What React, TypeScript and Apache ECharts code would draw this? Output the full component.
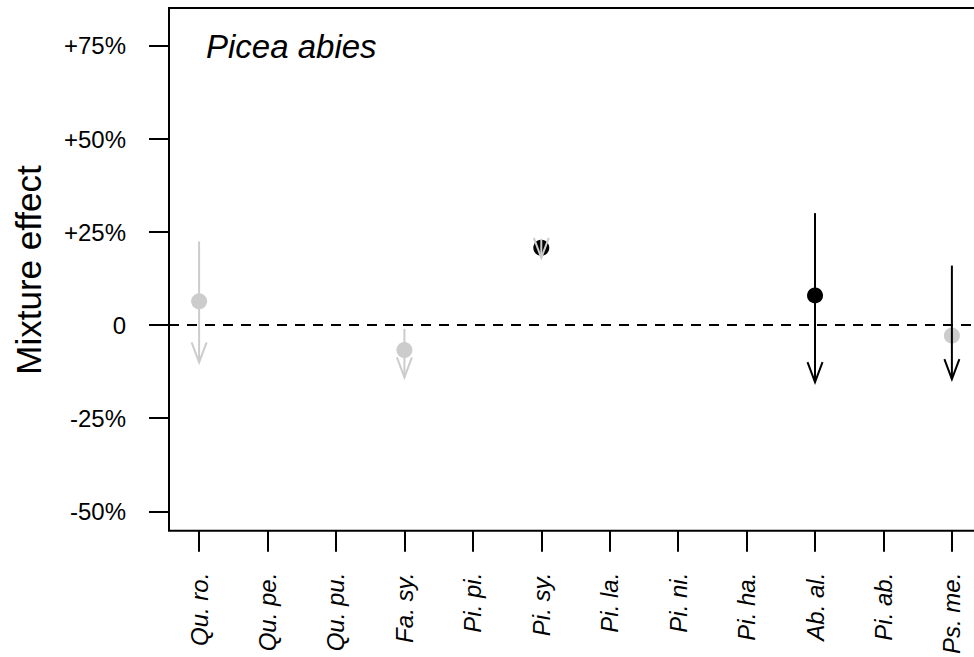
import React, { useEffect, useRef } from "react";
import * as echarts from "echarts";

const categories = ["Qu. ro.", "Qu. pe.", "Qu. pu.", "Fa. sy.", "Pi. pi.", "Pi. sy.", "Pi. la.", "Pi. ni.", "Pi. ha.", "Ab. al.", "Pi. ab.", "Ps. me."];
const yTickValues = [-50, -25, 0, 25, 50, 75];
const yTickLabels = ["-50%", "-25%", "0", "+25%", "+50%", "+75%"];

const pointCategories = ["Qu. ro.", "Fa. sy.", "Pi. sy.", "Ab. al.", "Ps. me."];
const pointValues = [6.4, -6.7, 20.8, 8.0, -2.8];
const pointSignificant = [false, false, true, true, false];

const arrowCategories = ["Qu. ro.", "Fa. sy.", "Pi. sy.", "Ab. al.", "Ps. me."];
const arrowFrom = [22.5, -1.0, 23.2, 30.1, 16.0];
const arrowTo = [-10.0, -14.0, 18.1, -15.3, -14.5];
const arrowSignificant = [false, false, false, true, true];

const GRAY = "#cccccc";
const BLACK = "#000000";
const FONT = "'Liberation Sans', Arial, sans-serif";
const CHART_W = 1000;

export default function App() {
  const ref = useRef<HTMLDivElement>(null);
  useEffect(() => {
    if (!ref.current) return;
    const chart = echarts.init(ref.current, null, { renderer: "svg" });
    const xPos = (c: string) => categories.indexOf(c) + 1;
    const points = pointCategories.map((c, i) => ({
      value: [xPos(c), pointValues[i]],
      itemStyle: { color: pointSignificant[i] ? BLACK : GRAY, opacity: 1 },
    }));
    const arrows = arrowCategories.map((c, i) => [xPos(c), arrowFrom[i], arrowTo[i], arrowSignificant[i] ? 1 : 0]);
    chart.setOption({
      animation: false,
      backgroundColor: "#ffffff",
      grid: { left: 169, top: 8, right: CHART_W - 982, bottom: 125, show: true, borderColor: "#000", borderWidth: 2, backgroundColor: "transparent" },
      xAxis: {
        type: "value",
        min: 0.56,
        max: 12.44,
        axisLine: { show: false, onZero: false },
        splitLine: { show: false },
        axisTick: { show: true, length: 21, inside: false, lineStyle: { color: "#000", width: 2 }, customValues: categories.map((_, i) => i + 1) },
        axisLabel: {
          customValues: categories.map((_, i) => i + 1),
          formatter: (v: number) => categories[Math.round(v) - 1] ?? "",
          rotate: 90,
          margin: 42,
          fontSize: 24,
          fontStyle: "italic",
          fontFamily: FONT,
          color: "#000",
        },
      },
      yAxis: {
        type: "value",
        min: -55.2,
        max: 85.2,
        axisLine: { show: false, onZero: false },
        splitLine: { show: false },
        axisTick: { show: true, length: 20, inside: false, lineStyle: { color: "#000", width: 2 }, customValues: yTickValues },
        axisLabel: {
          customValues: yTickValues,
          formatter: (v: number) => yTickLabels[yTickValues.indexOf(Math.round(v))] ?? "",
          margin: 43,
          fontSize: 24,
          fontFamily: FONT,
          color: "#000",
        },
      },
      graphic: [
        {
          type: "text",
          left: 206,
          top: 30,
          style: { text: "Picea abies", fontSize: 33, fontStyle: "italic", fontFamily: FONT, fill: "#000" },
        },
        {
          type: "text",
          x: 28,
          y: 270,
          rotation: Math.PI / 2,
          style: { text: "Mixture effect", fontSize: 35, fontFamily: FONT, fill: "#000", align: "center", verticalAlign: "middle" },
        },
      ],
      series: [
        {
          type: "scatter",
          symbol: "circle",
          symbolSize: 16,
          data: points,
          z: 2,
          markLine: {
            silent: true,
            symbol: "none",
            label: { show: false },
            lineStyle: { color: "#000", width: 2, type: [10, 8] },
            data: [{ yAxis: 0 }],
            z: 1,
          },
        },
        {
          type: "custom",
          z: 3,
          data: arrows,
          renderItem: (params: any, api: any) => {
            const x = api.value(0);
            const p1 = api.coord([x, api.value(1)]);
            const p2 = api.coord([x, api.value(2)]);
            const color = api.value(3) ? BLACK : GRAY;
            const dir = p2[1] >= p1[1] ? 1 : -1;
            const L = 20, W = 7.5;
            return {
              type: "group",
              children: [
                { type: "line", shape: { x1: p1[0], y1: p1[1], x2: p2[0], y2: p2[1] }, style: { stroke: color, lineWidth: 2 } },
                {
                  type: "polyline",
                  shape: { points: [[p2[0] - W, p2[1] - L * dir], [p2[0], p2[1]], [p2[0] + W, p2[1] - L * dir]] },
                  style: { stroke: color, lineWidth: 2, fill: "none" },
                },
              ],
            };
          },
        },
      ],
    });
    return () => chart.dispose();
  }, []);
  return (
    <div style={{ position: "fixed", left: 0, top: 0, width: 974, height: 657, background: "#fff", overflow: "hidden" }}>
      <div ref={ref} style={{ width: CHART_W, height: 657 }} />
    </div>
  );
}
